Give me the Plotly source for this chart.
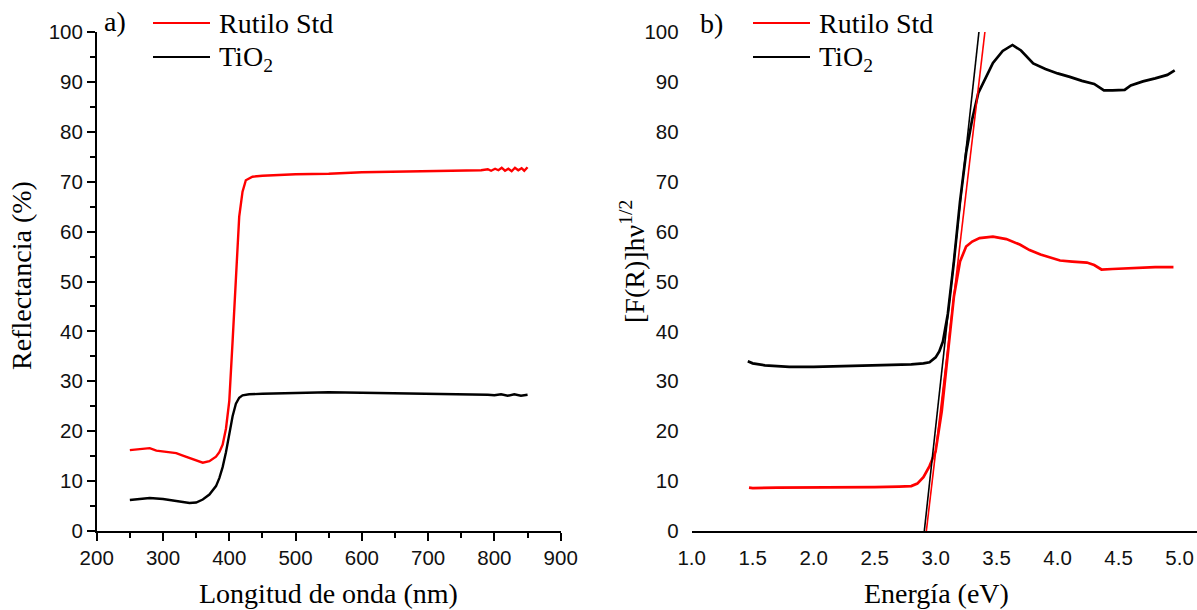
import plotly.graph_objects as go

# ---------------- Panel a) Reflectance ----------------
wl_rutilo = [250, 260, 270, 280, 290, 300, 310, 320, 330, 340, 350, 360, 370, 380, 385, 390, 395,
             400, 405, 410, 415, 420, 425, 435, 450, 500, 550, 600, 650, 700, 750, 780,
             790, 795, 801, 806, 811, 816, 821, 826, 831, 836, 841, 845, 850]
refl_rutilo = [16.2, 16.3, 16.4, 16.6, 16.1, 15.9, 15.8, 15.6, 15.1, 14.6, 14.1, 13.7, 14.0, 14.9, 15.8, 17.3, 20.5,
               26.0, 38.0, 52.0, 63.0, 68.0, 70.3, 71.0, 71.2, 71.5, 71.6, 71.9, 72.0, 72.1, 72.2, 72.3,
               72.5, 72.2, 72.6, 72.3, 72.8, 72.2, 72.6, 72.1, 72.8, 72.3, 72.7, 72.2, 72.9]

wl_tio2 = [250, 265, 280, 300, 320, 340, 350, 360, 370, 380, 385, 390, 395, 400, 405, 410, 415, 420, 430, 450,
           500, 550, 600, 650, 700, 750, 790, 800, 810, 820, 830, 840, 850]
refl_tio2 = [6.2, 6.4, 6.6, 6.4, 6.0, 5.6, 5.7, 6.3, 7.3, 9.0, 10.6, 12.8, 15.8, 19.5, 23.0, 25.5, 26.7, 27.2,
             27.4, 27.5, 27.6, 27.8, 27.7, 27.6, 27.6, 27.4, 27.3, 27.2, 27.4, 27.1, 27.4, 27.1, 27.3]

# ---------------- Panel b) Kubelka-Munk ----------------
e_rutilo = [1.47, 1.5, 1.7, 1.9, 2.1, 2.3, 2.5, 2.7, 2.8, 2.85, 2.9, 2.95, 3.0, 3.05, 3.1, 3.15, 3.2, 3.25,
            3.3, 3.36, 3.47, 3.58, 3.69, 3.77, 3.86, 3.94, 4.02, 4.12, 4.24, 4.3, 4.36, 4.45, 4.55, 4.67,
            4.8, 4.95]
km_rutilo = [8.7, 8.6, 8.7, 8.7, 8.8, 8.8, 8.8, 8.9, 9.0, 9.5, 10.8, 13.0, 16.0, 24.0, 35.0, 47.0, 54.0, 57.0,
             58.0, 58.7, 59.0, 58.5, 57.4, 56.3, 55.4, 54.8, 54.2, 54.0, 53.8, 53.3, 52.4, 52.5, 52.6, 52.8,
             52.9, 52.9]

e_tio2 = [1.46, 1.5, 1.6, 1.8, 2.0, 2.2, 2.4, 2.6, 2.8, 2.9, 2.95, 3.0, 3.03, 3.06, 3.1, 3.15, 3.2, 3.25,
          3.3, 3.35, 3.4, 3.47, 3.55, 3.63, 3.7, 3.8, 3.9, 4.0, 4.1, 4.2, 4.3, 4.38, 4.45, 4.55, 4.6,
          4.7, 4.8, 4.9, 4.96]
km_tio2 = [34.0, 33.6, 33.2, 32.9, 32.9, 33.0, 33.1, 33.2, 33.4, 33.6, 33.8, 34.8, 36.0, 38.0, 43.5, 54.0,
           66.0, 75.8, 82.5, 87.8, 90.2, 93.8, 96.2, 97.4, 96.3, 93.7, 92.6, 91.7, 91.0, 90.2, 89.6, 88.3,
           88.3, 88.4, 89.3, 90.1, 90.7, 91.4, 92.3]

# Tangent (band-gap) lines
tan_rutilo_x = [2.924, 3.404]
tan_rutilo_y = [0, 100]
tan_tio2_x = [2.907, 3.355]
tan_tio2_y = [0, 100]

legend_labels = ["Rutilo Std", "TiO<sub>2</sub>"]

RED = "#ff0000"
BLACK = "#000000"
SERIF = "Liberation Serif"
SANS = "Liberation Sans"

fig = go.Figure()

fig.add_trace(go.Scatter(x=wl_rutilo, y=refl_rutilo, mode="lines", name=legend_labels[0], showlegend=False,
                         line=dict(color=RED, width=2.4), xaxis="x", yaxis="y"))
fig.add_trace(go.Scatter(x=wl_tio2, y=refl_tio2, mode="lines", name=legend_labels[1], showlegend=False,
                         line=dict(color=BLACK, width=2.4), xaxis="x", yaxis="y"))

fig.add_trace(go.Scatter(x=e_rutilo, y=km_rutilo, mode="lines", name=legend_labels[0], showlegend=False,
                         line=dict(color=RED, width=2.7), xaxis="x2", yaxis="y2"))
fig.add_trace(go.Scatter(x=e_tio2, y=km_tio2, mode="lines", name=legend_labels[1], showlegend=False,
                         line=dict(color=BLACK, width=2.7), xaxis="x2", yaxis="y2"))
fig.add_trace(go.Scatter(x=tan_tio2_x, y=tan_tio2_y, mode="lines", showlegend=False,
                         line=dict(color=BLACK, width=1.6), xaxis="x2", yaxis="y2", cliponaxis=False))
fig.add_trace(go.Scatter(x=tan_rutilo_x, y=tan_rutilo_y, mode="lines", showlegend=False,
                         line=dict(color=RED, width=1.6), xaxis="x2", yaxis="y2", cliponaxis=False))

W, H = 1197, 610
ydom = [(H - 531.0) / H, (H - 32.0) / H]
tickfont = dict(family=SANS, size=20.5, color="#111111")
serif_font = dict(family=SERIF, size=28, color="black")

# legend drawn as line samples + labels (paper coordinates)
shapes = []
annotations = []
legend_rows_y = [23, 57]
legend_colors = [RED, BLACK]
for x0 in (153, 753):
    for yy, col, lab in zip(legend_rows_y, legend_colors, legend_labels):
        shapes.append(dict(type="line", xref="paper", yref="paper",
                           x0=x0 / W, x1=(x0 + 57) / W, y0=1 - yy / H, y1=1 - yy / H,
                           line=dict(color=col, width=2)))
        annotations.append(dict(text=lab, x=(x0 + 64) / W, y=1 - (yy + 1) / H, xref="paper", yref="paper",
                                xanchor="left", yanchor="middle", showarrow=False, font=serif_font))

annotations += [
    dict(text="a)", x=102 / W, y=1 - 22 / H, xref="paper", yref="paper", xanchor="left",
         yanchor="middle", showarrow=False, font=serif_font),
    dict(text="b)", x=698 / W, y=1 - 24 / H, xref="paper", yref="paper", xanchor="left",
         yanchor="middle", showarrow=False, font=serif_font),
    dict(text="Longitud de onda (nm)", x=328 / W, y=1 - 593 / H, xref="paper", yref="paper",
         xanchor="center", yanchor="middle", showarrow=False, font=serif_font),
    dict(text="Energía (eV)", x=936 / W, y=1 - 593 / H, xref="paper", yref="paper",
         xanchor="center", yanchor="middle", showarrow=False, font=serif_font),
    dict(text="Reflectancia (%)", x=22 / W, y=1 - 276 / H, xref="paper", yref="paper",
         xanchor="center", yanchor="middle", showarrow=False, textangle=-90, font=serif_font),
    dict(text="[F(R)]hν<sup>1/2</sup>", x=632 / W, y=1 - 262 / H, xref="paper", yref="paper",
         xanchor="center", yanchor="middle", showarrow=False, textangle=-90, font=serif_font),
]

fig.update_layout(
    width=W, height=H,
    margin=dict(l=0, r=0, t=0, b=0, autoexpand=False),
    paper_bgcolor="white", plot_bgcolor="white",
    showlegend=False,
    xaxis=dict(domain=[96.7 / W, 560.7 / W], range=[200, 900], anchor="y", automargin=False,
               showline=True, linecolor="black", linewidth=1.5, showgrid=False, zeroline=False,
               ticks="outside", ticklen=8, tickwidth=1.5, tickcolor="black", dtick=100, tick0=0,
               minor=dict(ticks="outside", ticklen=5, dtick=50, tickwidth=1.5, tickcolor="black"),
               tickfont=tickfont),
    yaxis=dict(domain=ydom, range=[0, 100], anchor="x", automargin=False,
               showline=True, linecolor="black", linewidth=1.5, showgrid=False, zeroline=False,
               ticks="outside", ticklen=8, tickwidth=1.5, tickcolor="black", dtick=10, tick0=0,
               minor=dict(ticks="outside", ticklen=5, dtick=5, tickwidth=1.5, tickcolor="black"),
               tickfont=tickfont),
    xaxis2=dict(domain=[691.7 / W, 1.0], range=[1.0, 5.143], anchor="y2", automargin=False,
                showline=True, linecolor="black", linewidth=1.5, showgrid=False, zeroline=False,
                ticks="outside", ticklen=8, tickcolor="rgba(0,0,0,0)", dtick=0.5, tick0=0,
                tickformat=".1f", tickfont=tickfont),
    yaxis2=dict(domain=ydom, range=[0, 100], anchor="x2", automargin=False,
                showline=False, showgrid=False, zeroline=False,
                ticks="outside", ticklen=8, tickcolor="rgba(0,0,0,0)", dtick=10, tick0=0,
                tickfont=tickfont),
    shapes=shapes,
    annotations=annotations,
)

fig.write_html("out.html")
